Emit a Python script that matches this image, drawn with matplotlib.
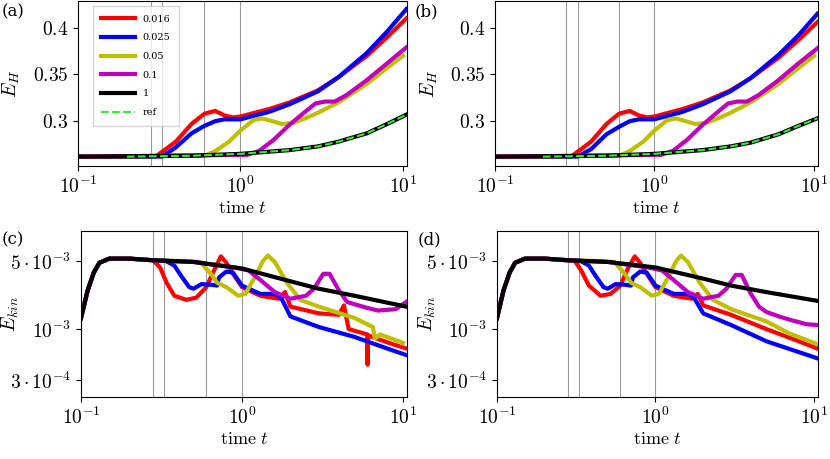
import numpy as np
import matplotlib
matplotlib.use("Agg")
import matplotlib.pyplot as plt
from matplotlib.ticker import FixedLocator, FixedFormatter, LogLocator, NullFormatter

plt.rcParams['mathtext.fontset'] = 'cm'
plt.rcParams['font.family'] = 'serif'
plt.rcParams['font.serif'] = ['DejaVu Serif']

labels = ['0.016', '0.025', '0.05', '0.1', '1']
colors = ['#ff0000', '#0000ff', '#bfbf00', '#bf00bf', '#000000']
vlines = [0.28, 0.33, 0.6, 1.0]

# energy E_H, panel (a)
a_t = [
    [0.1, 0.3, 0.4, 0.5, 0.6, 0.7, 0.8, 0.9, 1.0, 1.5, 2, 3, 4, 6, 8, 10.5],
    [0.1, 0.33, 0.4, 0.5, 0.6, 0.7, 0.8, 1.0, 1.5, 2, 3, 4, 6, 8, 10.5],
    [0.1, 0.6, 0.7, 0.85, 1.0, 1.2, 1.35, 1.5, 1.8, 2.1, 2.5, 3, 4, 6, 8, 10],
    [0.1, 1.1, 1.3, 1.6, 2, 2.5, 2.9, 3.3, 3.8, 4.5, 6, 8, 10.5],
    [0.1, 0.5, 1, 2, 3, 4, 6, 8, 10.5],
]
a_e = [
    [.262, .262, .278, .297, .308, .311, .306, .304, .305, .313, .320, .333, .347, .370, .390, .410],
    [.262, .262, .272, .287, .295, .300, .302, .302, .310, .318, .332, .347, .373, .396, .420],
    [.262, .263, .268, .278, .290, .301, .303, .301, .297, .298, .303, .309, .320, .340, .357, .370],
    [.262, .264, .268, .280, .296, .310, .319, .321, .321, .328, .344, .362, .379],
    [.262, .263, .265, .269, .273, .278, .287, .297, .307],
]
# panel (b)
b_t = a_t
b_e = [
    [.262, .262, .278, .297, .308, .311, .306, .304, .305, .313, .320, .333, .346, .368, .387, .406],
    [.262, .262, .270, .286, .294, .300, .302, .302, .310, .318, .332, .346, .371, .392, .415],
    [.262, .263, .268, .278, .290, .301, .303, .301, .297, .298, .303, .309, .320, .340, .357, .370],
    [.262, .264, .268, .280, .296, .310, .319, .321, .321, .328, .344, .362, .378],
    [.262, .263, .265, .269, .273, .277, .286, .295, .303],
]
ref_t = [0.2, 0.5, 1, 2, 3, 4, 6, 8, 10.5]
ref_a = [.262, .263, .265, .269, .273, .278, .287, .297, .307]
ref_b = [.262, .263, .265, .269, .273, .277, .286, .295, .303]

# kinetic energy, panel (c)
rise_t = [0.1, 0.11, 0.12, 0.13, 0.15, 0.2, 0.28]
rise_k = [1.3e-3, 2.5e-3, 3.8e-3, 4.8e-3, 5.3e-3, 5.3e-3, 5.1e-3]
c_t = [
    [0.31, 0.34, 0.38, 0.45, 0.52, 0.6, 0.67, 0.74, 0.8, 0.9, 1.0, 1.3, 1.7, 1.85, 2.0, 3, 4, 4.3, 4.6,
     6, 6.03, 6.07, 8, 10.5],
    [0.33, 0.38, 0.42, 0.47, 0.5, 0.56, 0.65, 0.7, 0.72, 0.8, 0.88, 1.0, 1.3, 1.6, 1.75, 2.0, 3, 5, 8, 10.5],
    [0.45, 0.55, 0.65, 0.7, 0.8, 0.95, 1.05, 1.2, 1.35, 1.45, 1.6, 1.9, 2.3, 3, 5, 6.5, 6.7, 7.2, 10],
    [0.5, 0.9, 1.1, 1.3, 1.6, 2.0, 2.5, 2.8, 3.2, 3.5, 4, 4.5, 5, 6, 7, 9, 10.5],
    [0.5, 1, 2, 3, 5, 10.5],
]
c_k = [
    [4.3e-3, 3e-3, 2.2e-3, 2.0e-3, 2.1e-3, 2.7e-3, 4e-3, 5.6e-3, 4.8e-3, 3.5e-3, 2.7e-3, 2.2e-3, 2.05e-3,
     2.4e-3, 1.7e-3, 1.45e-3, 1.4e-3, 1.75e-3, 1.0e-3, 8.8e-4, 4.3e-4, 8.6e-4, 7.3e-4, 6.3e-4],
    [5.1e-3, 4.5e-3, 3.5e-3, 2.7e-3, 2.6e-3, 2.9e-3, 2.85e-3, 2.8e-3, 3.4e-3, 3.9e-3, 3.8e-3, 2.8e-3,
     2.3e-3, 2.3e-3, 2.1e-3, 1.35e-3, 1.05e-3, 8.3e-4, 6.3e-4, 5.4e-4],
    [5.0e-3, 4.9e-3, 3.6e-3, 3.0e-3, 2.7e-3, 2.2e-3, 2.3e-3, 3.4e-3, 5.0e-3, 5.7e-3, 4.9e-3, 3.0e-3,
     2.0e-3, 1.7e-3, 1.3e-3, 1.05e-3, 8e-4, 8.8e-4, 7.2e-4],
    [4.9e-3, 4.3e-3, 4.0e-3, 3.2e-3, 2.4e-3, 2.05e-3, 2.2e-3, 2.6e-3, 3.7e-3, 3.7e-3, 2.5e-3, 1.9e-3,
     1.8e-3, 1.65e-3, 1.55e-3, 1.6e-3, 1.9e-3],
    [4.9e-3, 4.2e-3, 3.1e-3, 2.6e-3, 2.2e-3, 1.7e-3],
]
# panel (d)
d_t = [
    [0.31, 0.34, 0.38, 0.45, 0.52, 0.6, 0.67, 0.74, 0.8, 0.9, 1.0, 1.3, 1.7, 1.85, 2.0, 3, 5, 8, 10.5],
    c_t[1],
    [0.45, 0.55, 0.65, 0.7, 0.8, 0.95, 1.05, 1.2, 1.35, 1.45, 1.6, 1.9, 2.3, 3, 5, 7, 10.5],
    [0.5, 0.9, 1.1, 1.3, 1.6, 2.0, 2.5, 2.8, 3.2, 3.5, 4, 4.5, 5, 6, 7, 9, 10.5],
    [0.5, 1, 2, 3, 5, 10.5],
]
d_k = [
    [5.0e-3, 4.0e-3, 2.8e-3, 2.2e-3, 2.3e-3, 2.8e-3, 4.2e-3, 5.6e-3, 4.8e-3, 3.5e-3, 2.7e-3, 2.2e-3, 2.05e-3,
     2.3e-3, 1.75e-3, 1.4e-3, 1.0e-3, 7.5e-4, 6.3e-4],
    [5.1e-3, 4.5e-3, 3.5e-3, 2.7e-3, 2.6e-3, 2.9e-3, 2.85e-3, 2.8e-3, 3.4e-3, 3.9e-3, 3.8e-3, 2.8e-3,
     2.3e-3, 2.3e-3, 2.1e-3, 1.45e-3, 1.1e-3, 7.5e-4, 5.8e-4, 5.0e-4],
    [5.0e-3, 4.9e-3, 3.6e-3, 3.0e-3, 2.7e-3, 2.2e-3, 2.3e-3, 3.4e-3, 5.0e-3, 5.7e-3, 4.9e-3, 3.0e-3,
     2.0e-3, 1.6e-3, 1.2e-3, 9.0e-4, 7.0e-4],
    [4.9e-3, 4.3e-3, 4.0e-3, 3.2e-3, 2.4e-3, 2.05e-3, 2.2e-3, 2.6e-3, 3.6e-3, 3.6e-3, 2.3e-3, 1.7e-3,
     1.5e-3, 1.35e-3, 1.25e-3, 1.12e-3, 1.1e-3],
    [4.9e-3, 4.3e-3, 3.3e-3, 2.8e-3, 2.4e-3, 1.95e-3],
]

fig = plt.figure(figsize=(8.3, 4.59), dpi=100)
W, H = 830, 459
def box(x0, y0, x1, y1):
    return [x0 / W, 1 - y1 / H, (x1 - x0) / W, (y1 - y0) / H]

ax_a = fig.add_axes(box(78, 1, 407, 166))
ax_b = fig.add_axes(box(495, 1, 818, 166))
ax_c = fig.add_axes(box(81, 231, 407, 397))
ax_d = fig.add_axes(box(497, 231, 818, 397))

def setup_x(ax):
    ax.set_xscale('log')
    ax.set_xlim(0.1, 10.6)
    ax.xaxis.set_major_locator(FixedLocator([0.1, 1, 10]))
    ax.xaxis.set_major_formatter(FixedFormatter([r'$10^{-1}$', r'$10^{0}$', r'$10^{1}$']))
    ax.xaxis.set_minor_locator(LogLocator(subs='auto'))
    ax.xaxis.set_minor_formatter(NullFormatter())
    ax.tick_params(axis='x', which='minor', length=0)
    ax.tick_params(labelsize=14)
    ax.set_xlabel(r'$\mathrm{time}\ t$', fontsize=13, labelpad=0)
    ax.xaxis.set_label_coords(0.5, -0.2)
    for v in vlines:
        ax.axvline(v, color='#999999', lw=0.8, zorder=0)

for ax, ts, es, ref, tag in [(ax_a, a_t, a_e, ref_a, '(a)'), (ax_b, b_t, b_e, ref_b, '(b)')]:
    setup_x(ax)
    for t, e, c, l in zip(ts, es, colors, labels):
        ax.plot(t, e, color=c, lw=3, label=l)
    ax.plot(ref_t, ref, color='#33ee33', lw=1.5, ls='--', label='ref')
    ax.set_ylim(0.252, 0.4287)
    ax.set_yticks([0.3, 0.35, 0.4])
    ax.set_yticklabels([r'$0.3$', r'$0.35$', r'$0.4$'])
    ax.set_ylabel(r'$E_H$', fontsize=14)
    ax.yaxis.set_label_coords(-0.17, 0.5)
    fig.text(ax.get_position().x0 - (76 if tag == '(a)' else 80) / W, 0.975, tag, fontsize=12, va='center')

ax_a.legend(loc='upper left', fontsize=7, handlelength=3.4, borderpad=0.9, labelspacing=1.0,
            fancybox=False, bbox_to_anchor=(0.03, 1.0))

for ax, ts, ks, tag in [(ax_c, c_t, c_k, '(c)'), (ax_d, d_t, d_k, '(d)')]:
    setup_x(ax)
    for t, k, c in zip(ts, ks, colors):
        ax.plot(rise_t + t, rise_k[:] + k, color=c, lw=3)
    ax.set_yscale('log')
    ax.set_ylim(2.0e-4, 1.02e-2)
    ax.yaxis.set_major_locator(FixedLocator([3e-4, 1e-3, 5e-3]))
    ax.yaxis.set_major_formatter(FixedFormatter([r'$3\cdot10^{-4}$', r'$10^{-3}$', r'$5\cdot10^{-3}$']))
    ax.yaxis.set_minor_formatter(NullFormatter())
    ax.tick_params(axis='y', which='minor', length=0)
    ax.set_ylabel(r'$E_{kin}$', fontsize=14)
    ax.yaxis.set_label_coords(-0.185, 0.5)
    fig.text(ax.get_position().x0 - 79 / W, 1 - 240 / H, tag, fontsize=12, va='center')

fig.savefig('out.png', dpi=100)
